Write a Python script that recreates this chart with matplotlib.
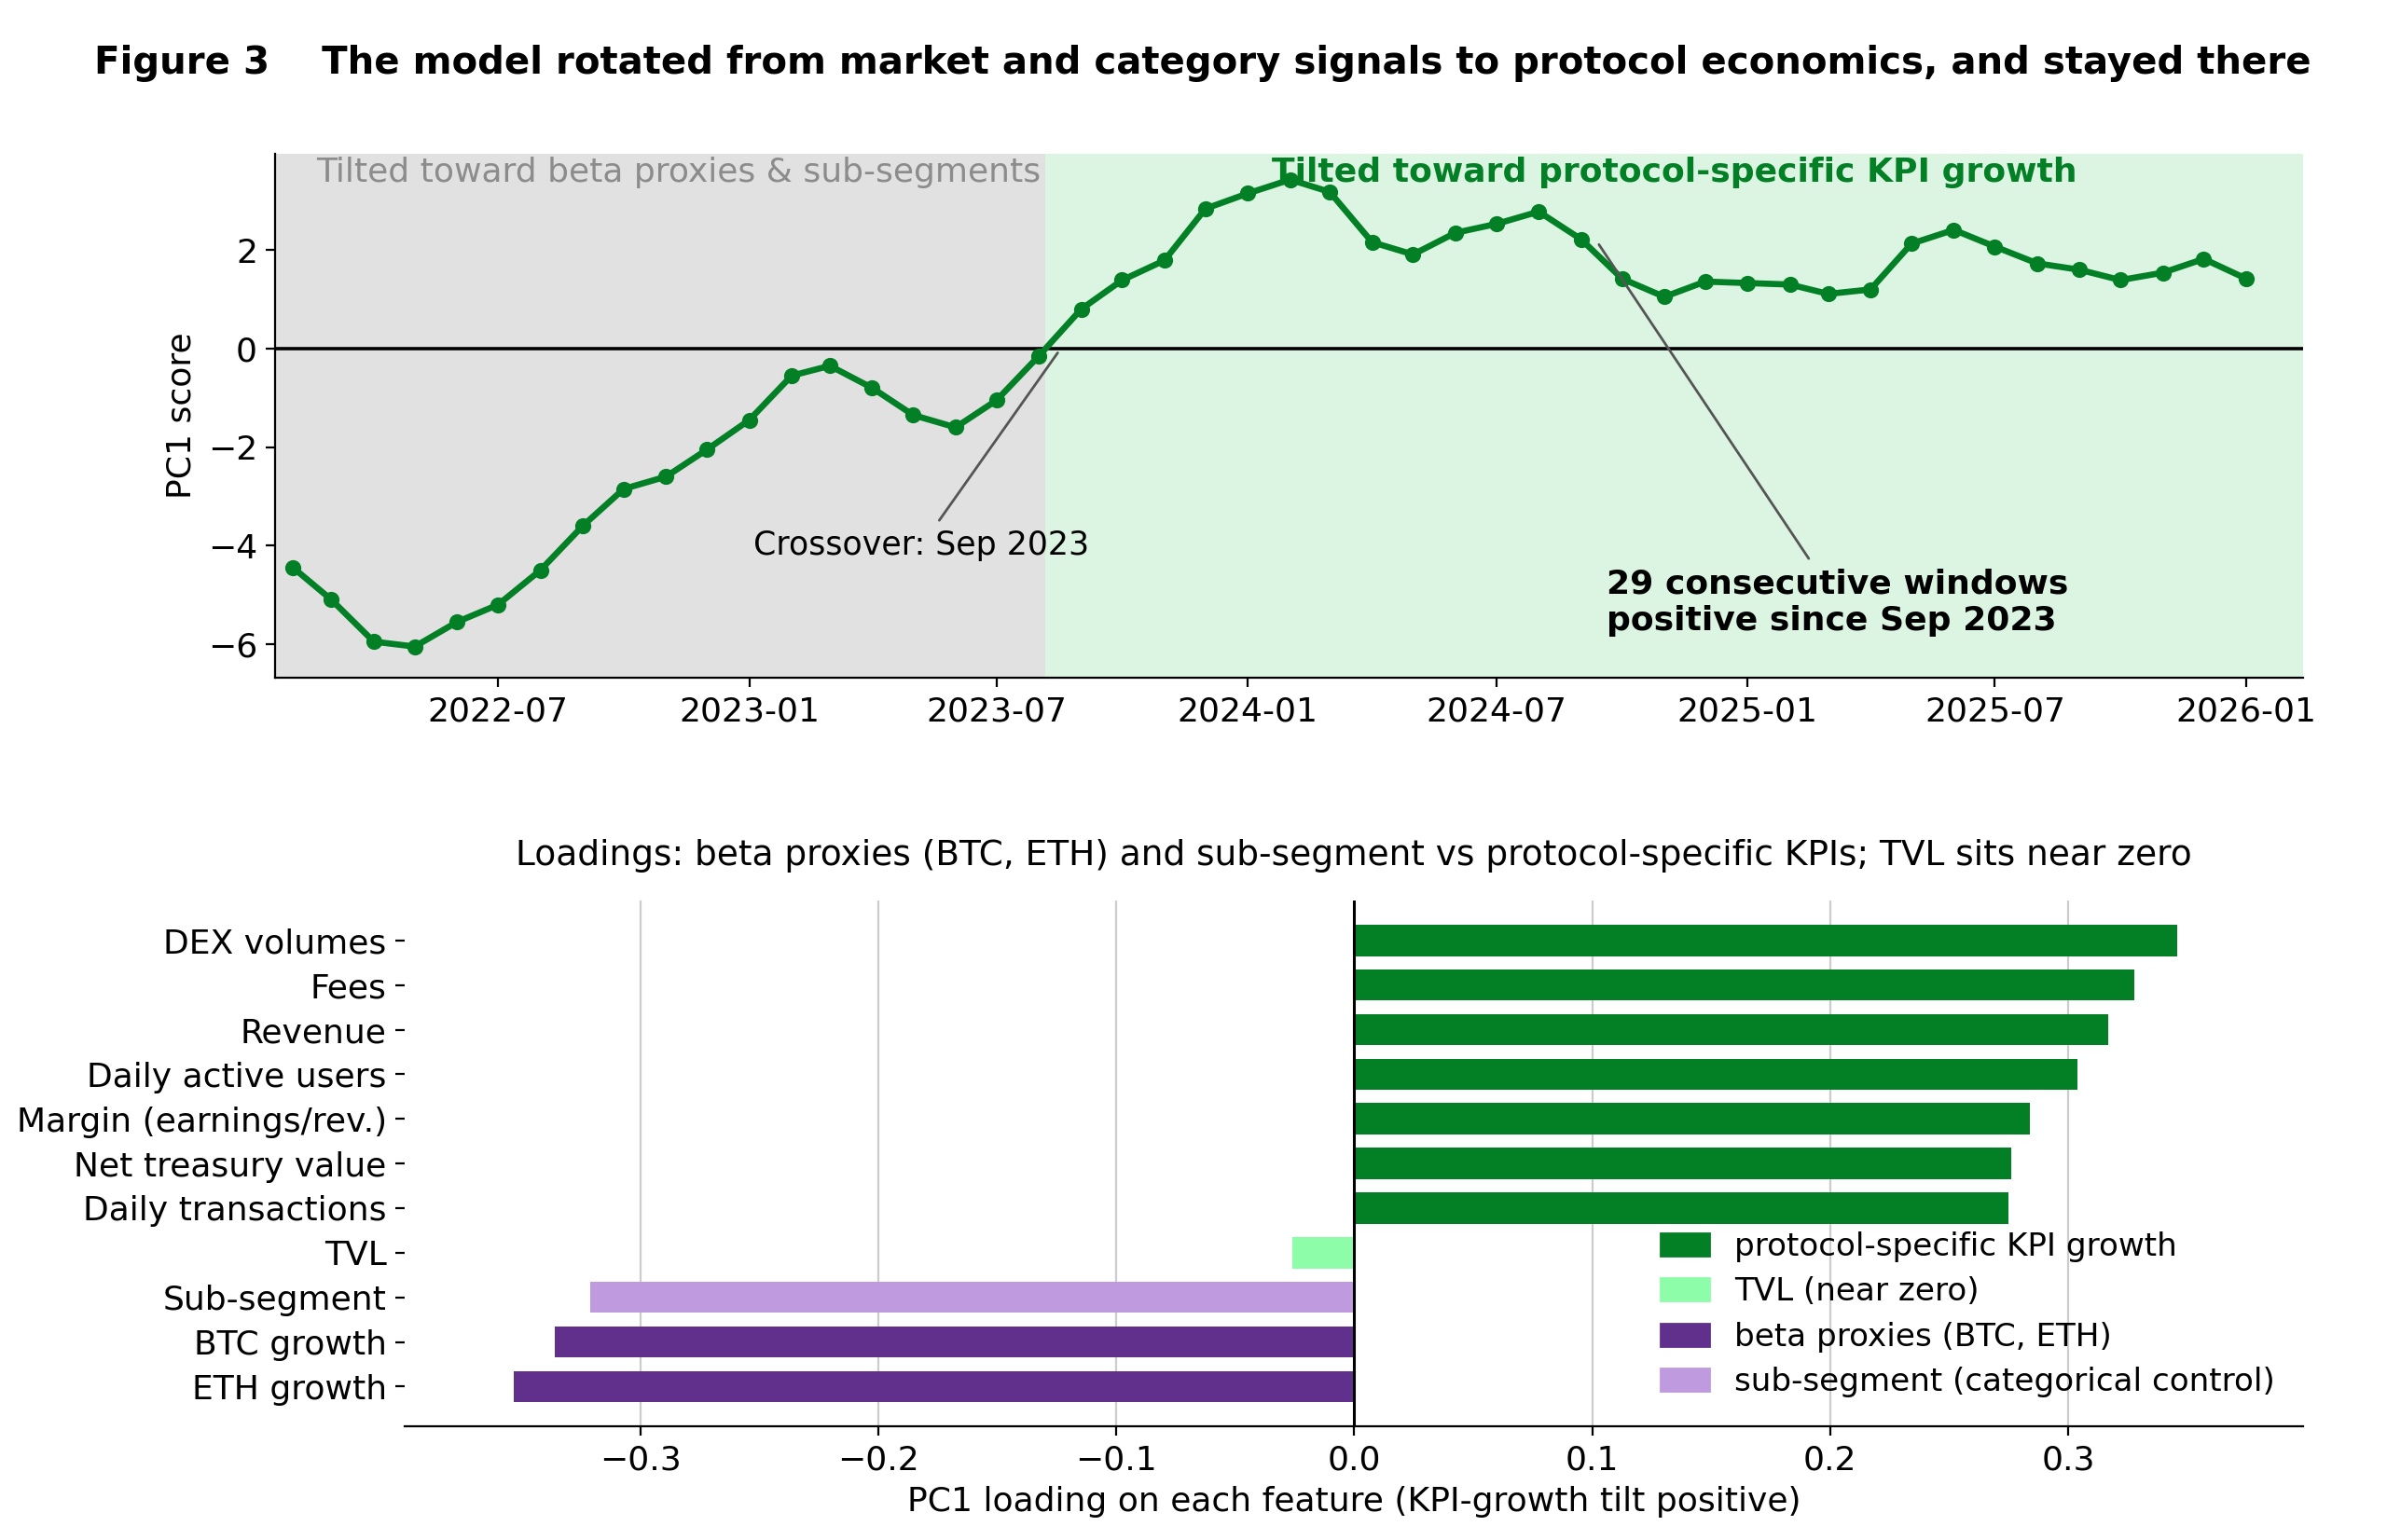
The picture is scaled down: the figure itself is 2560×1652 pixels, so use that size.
import numpy as np
import pandas as pd
import matplotlib
matplotlib.use('Agg')
import matplotlib.pyplot as plt
import matplotlib.dates as mdates
import matplotlib.transforms as mtransforms

plt.rcParams['font.family'] = 'DejaVu Sans'
plt.rcParams['font.size'] = 13

# PC1 score, monthly windows Feb 2022 .. Jan 2026
dates = pd.date_range('2022-02-01', '2026-01-01', freq='MS')
pc1 = [-4.45, -5.10, -5.95, -6.05, -5.55, -5.20, -4.50, -3.60, -2.85, -2.60,
       -2.05, -1.45, -0.55, -0.35, -0.80, -1.35, -1.60, -1.05, -0.15, 0.80,
       1.39, 1.79, 2.84, 3.15, 3.43, 3.18, 2.16, 1.91, 2.35, 2.53,
       2.78, 2.22, 1.42, 1.05, 1.36, 1.33, 1.30, 1.11, 1.20, 2.13,
       2.41, 2.07, 1.73, 1.60, 1.39, 1.54, 1.82, 1.42]

# loadings (top to bottom)
features = ['DEX volumes', 'Fees', 'Revenue', 'Daily active users',
            'Margin (earnings/rev.)', 'Net treasury value', 'Daily transactions',
            'TVL', 'Sub-segment', 'BTC growth', 'ETH growth']
loadings = [0.346, 0.328, 0.317, 0.304, 0.284, 0.276, 0.275,
            -0.026, -0.321, -0.336, -0.353]
groups = ['kpi'] * 7 + ['tvl', 'sub', 'beta', 'beta']

GREEN = '#037f25'
LIGHTGREEN = '#8dfdaa'
PURPLE = '#61308c'
LIGHTPURPLE = '#bf9ade'
group_colors = {'kpi': GREEN, 'tvl': LIGHTGREEN, 'beta': PURPLE, 'sub': LIGHTPURPLE}
group_labels = {'kpi': 'protocol-specific KPI growth', 'tvl': 'TVL (near zero)',
                'beta': 'beta proxies (BTC, ETH)', 'sub': 'sub-segment (categorical control)'}

fig = plt.figure(figsize=(12.8, 8.26), dpi=200)
ax1 = fig.add_axes([0.1154, 0.560, 0.8496, 0.340])
ax2 = fig.add_axes([0.1696, 0.074, 0.7954, 0.341])

fig.text(0.504, 0.959, 'Figure 3    The model rotated from market and category signals to protocol economics, and stayed there',
         ha='center', va='center', fontsize=14.5, fontweight='bold')

# --- top: PC1 score over time
vals = np.array(pc1)
# interpolated zero crossing
i = int(np.where((vals[:-1] < 0) & (vals[1:] >= 0))[0][-1])
t0 = mdates.date2num(dates[i])
t1 = mdates.date2num(dates[i + 1])
cross = t0 + (t1 - t0) * (-vals[i]) / (vals[i + 1] - vals[i])

xmin = mdates.date2num(dates[0]) - 13
xmax = mdates.date2num(dates[-1]) + 42
ax1.axvspan(xmin, cross, color='#e1e1e1', lw=0, zorder=0)
ax1.axvspan(cross, xmax, color='#dcf5e3', lw=0, zorder=0)
ax1.axhline(0, color='black', lw=1.3, zorder=1)
ax1.plot(dates, pc1, color=GREEN, lw=2.4, marker='o', markersize=5.2, zorder=3)
ax1.set_xlim(xmin, xmax)
ax1.set_ylim(-6.68, 3.95)
ax1.set_yticks([-6, -4, -2, 0, 2])
ax1.set_ylabel('PC1 score')
ax1.xaxis.set_major_locator(mdates.MonthLocator(bymonth=[1, 7]))
ax1.xaxis.set_major_formatter(mdates.DateFormatter('%Y-%m'))
for s in ['top', 'right']:
    ax1.spines[s].set_visible(False)

trans = mtransforms.blended_transform_factory(ax1.transData, ax1.transAxes)
ax1.text(mdates.date2num(pd.Timestamp('2022-11-10')), 0.965,
         'Tilted toward beta proxies & sub-segments', transform=trans,
         ha='center', va='center', color='#8c8c8c')
ax1.text((cross + xmax) / 2, 0.965, 'Tilted toward protocol-specific KPI growth',
         transform=trans, ha='center', va='center', color=GREEN, fontweight='bold')

ax1.annotate('Crossover: Sep 2023', xy=(pd.Timestamp('2023-08-17'), 0),
             xytext=(pd.Timestamp('2023-05-07'), -4.0), ha='center', va='center',
             fontsize=12.5,
             arrowprops=dict(arrowstyle='-', color='#555555', lw=1))
ax1.annotate('29 consecutive windows\npositive since Sep 2023',
             xy=(pd.Timestamp('2024-09-12'), 2.2),
             xytext=(pd.Timestamp('2024-09-20'), -5.15), ha='left', va='center',
             fontweight='bold',
             arrowprops=dict(arrowstyle='-', color='#555555', lw=1))

# --- bottom: loadings
ypos = np.arange(len(features))
colors = [group_colors[g] for g in groups]
ax2.barh(ypos, loadings, height=0.7, color=colors, zorder=2)
ax2.invert_yaxis()
ax2.set_yticks(ypos)
ax2.set_yticklabels(features)
m = np.max(np.abs(loadings)) * 1.13
ax2.set_xlim(-m, m)
ax2.set_xticks([-0.3, -0.2, -0.1, 0.0, 0.1, 0.2, 0.3])
ax2.axvline(0, color='black', lw=1.1, zorder=3)
ax2.grid(axis='x', color='#cccccc', lw=0.8, zorder=0)
ax2.set_axisbelow(True)
for s in ['top', 'right', 'left']:
    ax2.spines[s].set_visible(False)
ax2.set_xlabel('PC1 loading on each feature (KPI-growth tilt positive)')
ax2.set_title('Loadings: beta proxies (BTC, ETH) and sub-segment vs protocol-specific KPIs; TVL sits near zero',
              fontsize=13.5, pad=14)

handles = [plt.Rectangle((0, 0), 1, 1, color=group_colors[g]) for g in ['kpi', 'tvl', 'beta', 'sub']]
ax2.legend(handles, [group_labels[g] for g in ['kpi', 'tvl', 'beta', 'sub']],
           loc='lower right', frameon=False, fontsize=12.3, handlelength=1.5,
           labelspacing=0.45)

fig.savefig('out.png', dpi=200)
